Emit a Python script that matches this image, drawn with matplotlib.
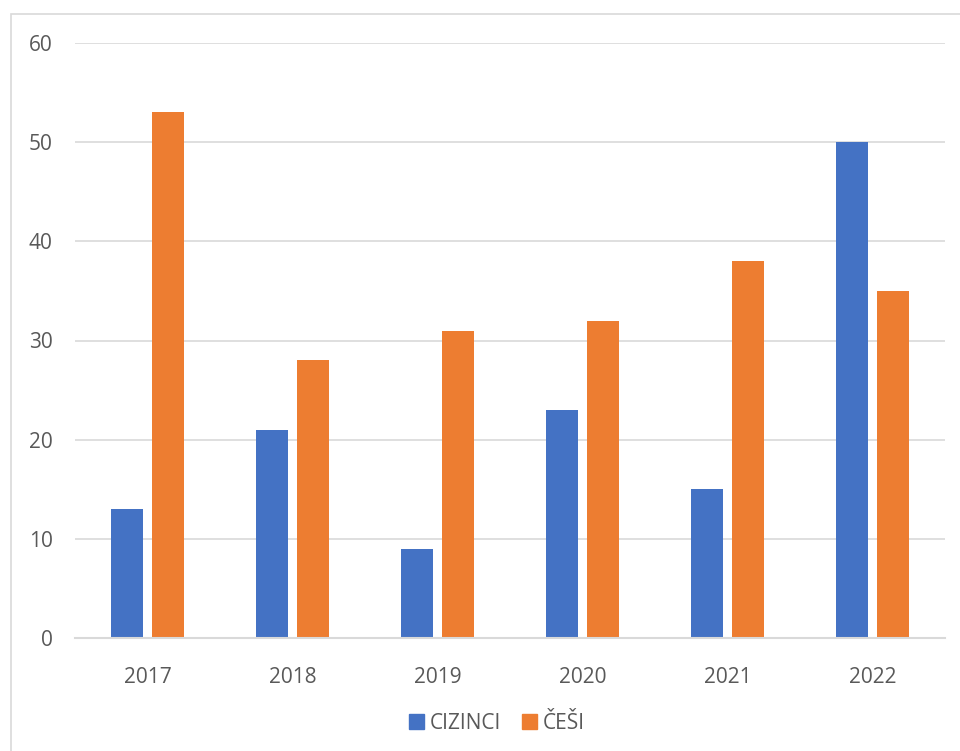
import matplotlib.pyplot as plt
from matplotlib.patches import Rectangle, Patch
import numpy as np

years = ["2017", "2018", "2019", "2020", "2021", "2022"]
cizinci = [13, 21, 9, 23, 15, 50]
cesi = [53, 28, 31, 32, 38, 35]
series_names = ["CIZINCI", "ČEŠI"]

blue = "#4472C4"
orange = "#ED7D31"
text_col = "#595959"
grid_col = "#d9d9d9"

plt.rcParams['font.family'] = ['Open Sans', 'DejaVu Sans']

fig = plt.figure(figsize=(9.6, 7.51), dpi=100)
ax = fig.add_axes([75 / 960, 113 / 751, 870 / 960, 595 / 751])

x = np.arange(len(years))
w = 0.224
off = 0.143
ax.bar(x - off, cizinci, width=w, color=blue, zorder=3)
ax.bar(x + off, cesi, width=w, color=orange, zorder=3)

ax.set_xlim(-0.5, len(years) - 0.5)
ax.set_ylim(0, 60)
ax.set_yticks(range(0, 61, 10))
ax.set_xticks(x)
ax.set_xticklabels(years)

ax.grid(axis="y", color=grid_col, linewidth=1.2, zorder=0)
for s in ["top", "right", "left"]:
    ax.spines[s].set_visible(False)
ax.spines["bottom"].set_color(grid_col)
ax.spines["bottom"].set_linewidth(1.5)
ax.spines["bottom"].set_zorder(4)

ax.tick_params(axis="both", length=0, labelsize=15, labelcolor=text_col)
ax.tick_params(axis="x", pad=21)
ax.tick_params(axis="y", pad=16)

handles = [Patch(color=blue), Patch(color=orange)]
fig.legend(handles, series_names, loc="center", bbox_to_anchor=(0.518, 0.037),
           ncol=2, frameon=False, fontsize=15, labelcolor=text_col,
           handlelength=0.7, handleheight=0.7, handletextpad=0.3,
           columnspacing=1.0)

# chart area border (cut off at right and bottom)
fig.patches.append(Rectangle((11 / 960, -0.1), 2, 0.1 + (751 - 14) / 751,
                             transform=fig.transFigure, fill=False,
                             edgecolor=grid_col, linewidth=1.2))

fig.savefig("out.png", dpi=100)
